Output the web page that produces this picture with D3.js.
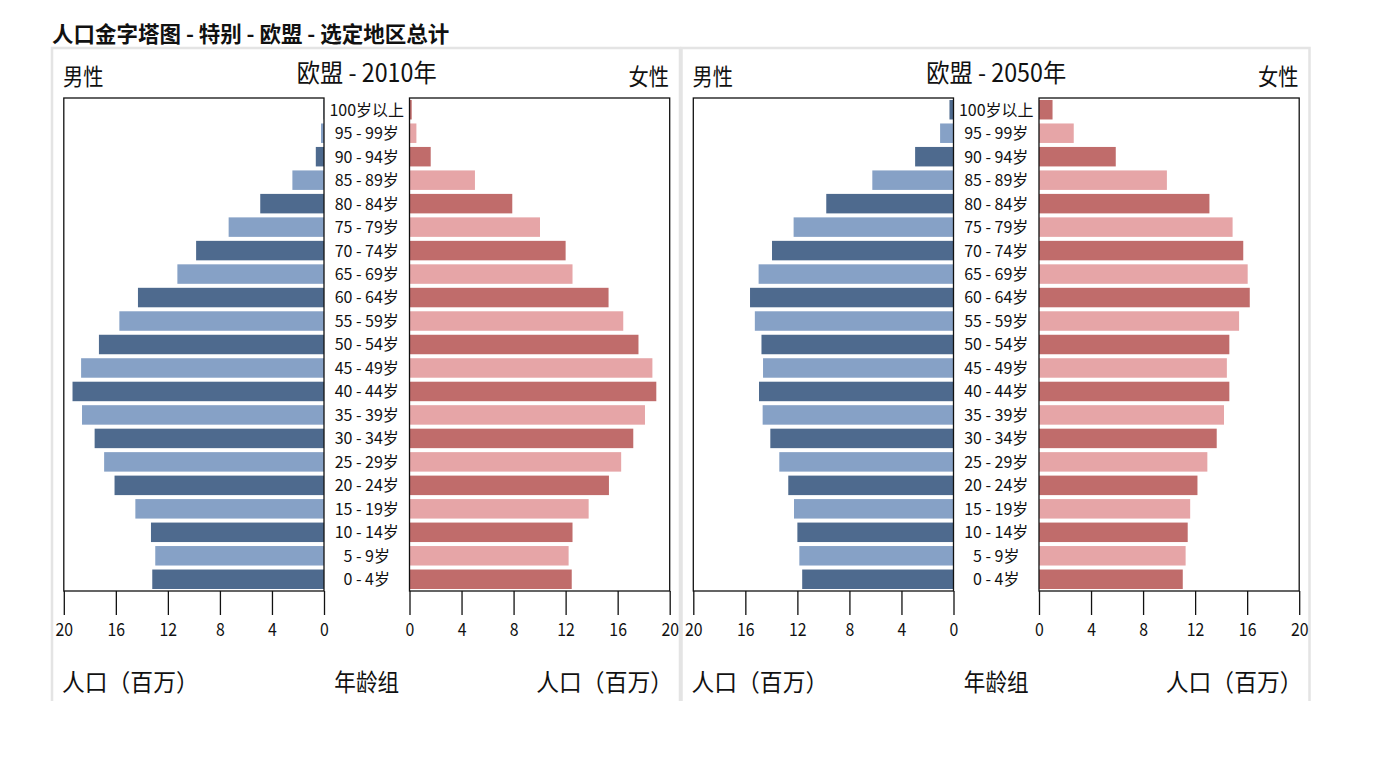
<!DOCTYPE html>
<html><head><meta charset="utf-8">
<script src="https://cdn.jsdelivr.net/npm/d3@7"></script>
<style>
html,body{margin:0;padding:0;background:#fff;}
text{font-family:"Noto Sans CJK SC","Noto Sans",sans-serif;fill:#111;}
</style></head>
<body>
<svg id="chart" width="1388" height="768"></svg>
<script>
const ageGroups = ["100岁以上","95 - 99岁","90 - 94岁","85 - 89岁","80 - 84岁","75 - 79岁","70 - 74岁","65 - 69岁","60 - 64岁","55 - 59岁","50 - 54岁","45 - 49岁","40 - 44岁","35 - 39岁","30 - 34岁","25 - 29岁","20 - 24岁","15 - 19岁","10 - 14岁","5 - 9岁","0 - 4岁"];
const male2010   = [0.03,0.23,0.63,2.43,4.9,7.33,9.83,11.27,14.3,15.73,17.3,18.67,19.33,18.6,17.63,16.9,16.1,14.5,13.3,12.97,13.2];
const female2010 = [0.17,0.53,1.63,5.03,7.9,10.03,12.0,12.53,15.3,16.43,17.6,18.67,18.97,18.1,17.2,16.27,15.33,13.77,12.53,12.23,12.47];
const male2050   = [0.31,1.03,2.95,6.24,9.78,12.29,13.95,14.98,15.64,15.27,14.76,14.64,14.95,14.67,14.08,13.39,12.7,12.26,12.0,11.85,11.63];
const female2050 = [1.04,2.67,5.9,9.83,13.1,14.88,15.7,16.04,16.2,15.38,14.63,14.44,14.63,14.22,13.66,12.94,12.18,11.62,11.43,11.27,11.05];
const tickValues = [0,4,8,12,16,20];
const panelTitles = ["欧盟 - 2010年","欧盟 - 2050年"];
const mainTitle = "人口金字塔图 - 特别 - 欧盟 - 选定地区总计";
const maleLabel = "男性", femaleLabel = "女性", popLabel = "人口（百万）", ageLabel = "年龄组";

const colors = {maleDark:"#4e6a8e", maleLight:"#86a1c6", femaleDark:"#c06c6b", femaleLight:"#e6a5a7"};

const svg = d3.select("#chart");

function addText(g, x, yy, str, size, anchor, sx, weight){
  return g.append("text")
    .attr("transform",`translate(${x},${yy}) scale(${sx},1)`)
    .attr("text-anchor",anchor||"start")
    .attr("font-size",size)
    .attr("font-weight",weight||"normal")
    .text(str);
}

addText(svg, 52, 42, mainTitle, 21.5, "start", 1, "bold");

const panels = [
  {off:0, title:panelTitles[0], male:male2010, female:female2010},
  {off:629.5, title:panelTitles[1], male:male2050, female:female2050}
];

const plotTop = 98, plotBottom = 591;
const y = d3.scaleBand().domain(ageGroups).range([plotTop,plotBottom]).paddingInner(0.17).paddingOuter(0.085);

panels.forEach((p,pi)=>{
  const g = svg.append("g").attr("transform",`translate(${p.off},0)`);
  const bx0 = 52, bx1 = 680;
  g.append("path").attr("d",`M${bx0},701V48H${bx1}V701`).attr("fill","none").attr("stroke","#e4e4e4").attr("stroke-width",2.5);

  const xm = d3.scaleLinear().domain([0,20]).range([324,63.8]);
  const xf = d3.scaleLinear().domain([0,20]).range([409.5,669.7]);

  g.selectAll(".m").data(p.male).join("rect").attr("class","m")
    .attr("x",d=>xm(d)).attr("width",d=>xm(0)-xm(d))
    .attr("y",(d,i)=>y(ageGroups[i])).attr("height",y.bandwidth())
    .attr("fill",(d,i)=> i%2===0 ? colors.maleDark : colors.maleLight);
  g.selectAll(".f").data(p.female).join("rect").attr("class","f")
    .attr("x",xf(0)).attr("width",d=>xf(d)-xf(0))
    .attr("y",(d,i)=>y(ageGroups[i])).attr("height",y.bandwidth())
    .attr("fill",(d,i)=> i%2===0 ? colors.femaleDark : colors.femaleLight);

  g.append("rect").attr("x",xm(20)).attr("y",plotTop).attr("width",xm(0)-xm(20)).attr("height",plotBottom-plotTop)
    .attr("fill","none").attr("stroke","#111").attr("stroke-width",1.3);
  g.append("rect").attr("x",xf(0)).attr("y",plotTop).attr("width",xf(20)-xf(0)).attr("height",plotBottom-plotTop)
    .attr("fill","none").attr("stroke","#111").attr("stroke-width",1.3);

  [xm,xf].forEach(sc=>{
    const ax = g.append("g").attr("transform",`translate(0,${plotBottom})`)
      .call(d3.axisBottom(sc).tickValues(tickValues).tickSize(24).tickPadding(8).tickFormat(d3.format("d")));
    ax.select(".domain").remove();
    ax.selectAll(".tick line").attr("stroke","#111").attr("stroke-width",1.3);
    ax.selectAll(".tick text").attr("font-size",18).attr("font-family","\"Noto Sans CJK SC\",sans-serif").attr("fill","#111")
      .attr("transform","scale(0.88,1)");
  });

  const cx = (xm(0)+xf(0))/2;
  ageGroups.forEach(a=>{
    addText(g, cx, y(a)+y.bandwidth()/2, a, 16, "middle", 1).attr("dy","0.37em");
  });

  addText(g, 63, 85, maleLabel, 23, "start", 0.88);
  addText(g, 669, 85, femaleLabel, 23, "end", 0.88);
  addText(g, cx, 82, p.title, 25, "middle", 0.93);

  addText(g, 62, 691, popLabel, 24, "start", 0.95);
  addText(g, cx, 691, ageLabel, 24, "middle", 0.9);
  addText(g, 673, 691, popLabel, 24, "end", 0.95);
});
</script>
</body></html>
